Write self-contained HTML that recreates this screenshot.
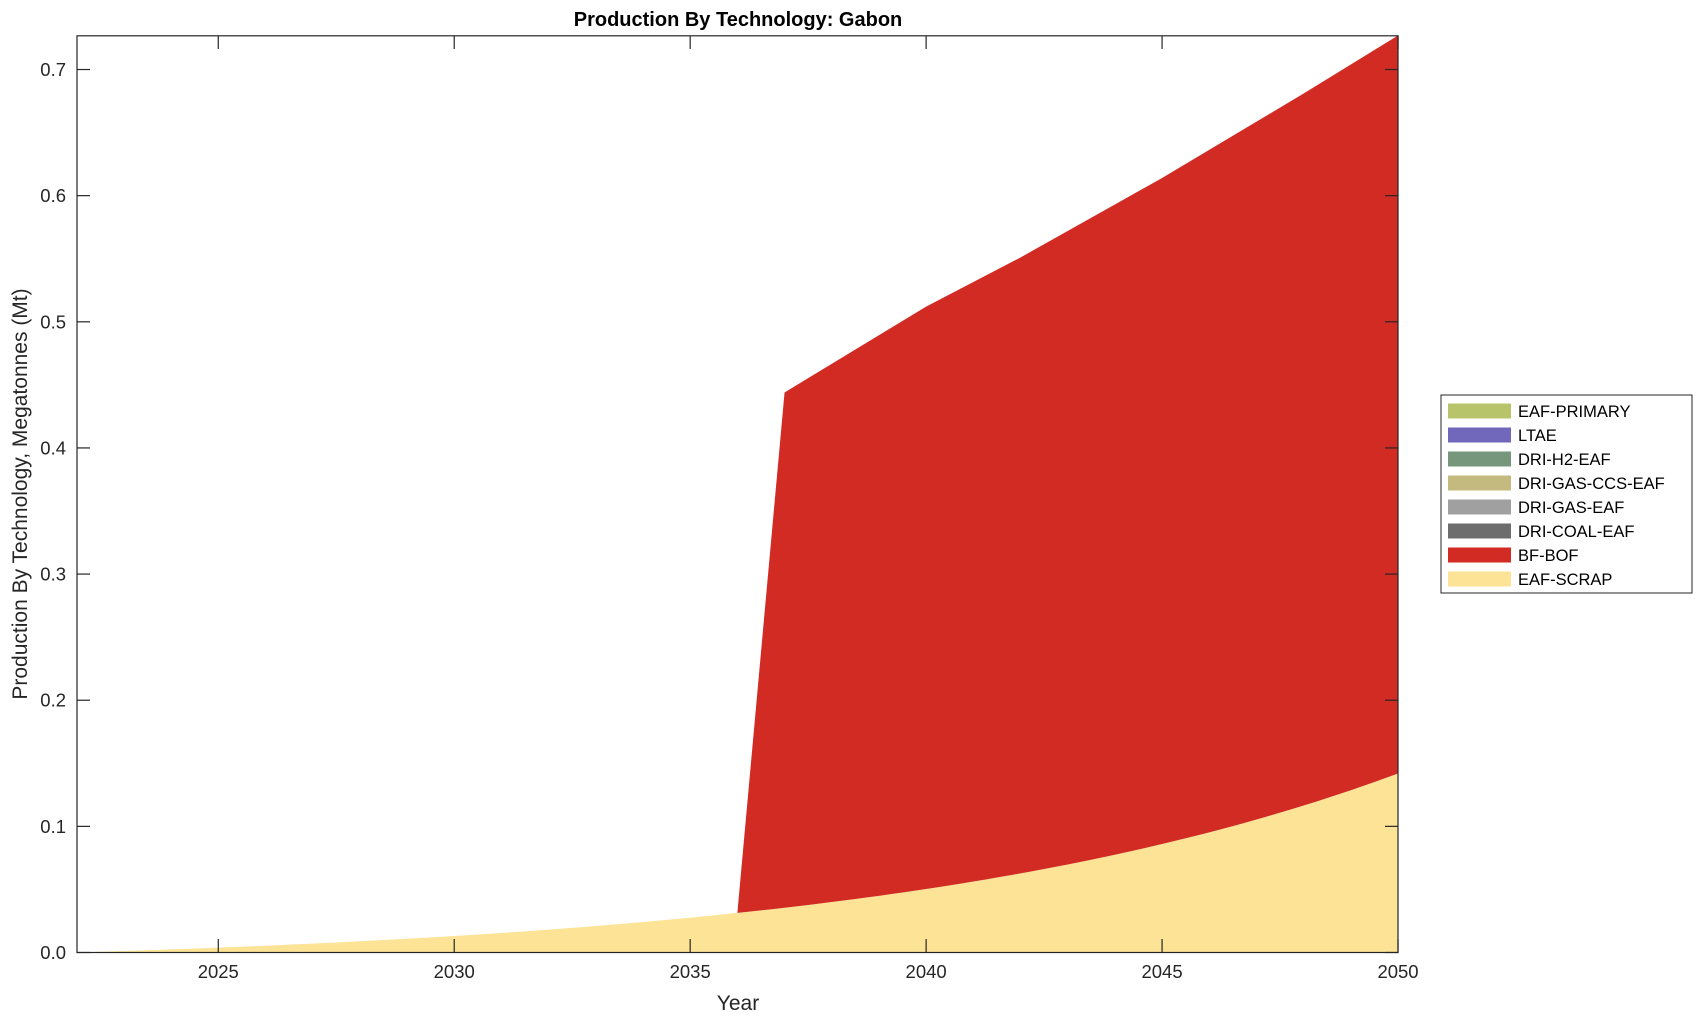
<!DOCTYPE html>
<html><head><meta charset="utf-8"><style>
html,body{margin:0;padding:0;background:#fff;}
svg{display:block;font-family:"Liberation Sans",Arial,sans-serif;}
</style></head><body>
<svg id="s" width="1703" height="1021" viewBox="0 0 1703 1021" xmlns="http://www.w3.org/2000/svg">
<g id="areas"></g>
<rect x="77" y="35.8" width="1321" height="916.7" fill="none" stroke="#262626" stroke-width="1.2"/>
<g id="ticks" stroke="#262626" stroke-width="1.2"></g>
<g id="labels" font-size="18.5" fill="#262626"></g>
<text x="738" y="26" text-anchor="middle" font-size="20" font-weight="bold" fill="#000">Production By Technology: Gabon</text>
<text x="738" y="1010" text-anchor="middle" font-size="21" fill="#262626">Year</text>
<text transform="translate(27,494) rotate(-90)" text-anchor="middle" font-size="21" fill="#262626">Production By Technology, Megatonnes (Mt)</text>
<rect x="1441" y="395" width="251" height="198" fill="#fff" stroke="#262626" stroke-width="1"/>
<g id="legend" font-size="16.5" fill="#000"></g>
</svg>
<script>
var X=function(y){return 76.7+(y-2022)*47.19;},Y=function(v){return 952.5-v*1261.4;};
function sc(t){return 0.01242*(Math.exp(0.09*(t-2022))-1);}
var total=[[2037,0.444],[2040,0.512],[2042,0.551],[2045,0.614],[2048,0.681],[2050,0.727]];
var ns="http://www.w3.org/2000/svg";
function el(p,t,a,txt){var e=document.createElementNS(ns,t);for(var k in a)e.setAttribute(k,a[k]);if(txt)e.textContent=txt;document.getElementById(p).appendChild(e);return e;}
var d="M"+X(2022)+","+Y(0);for(var t=2022;t<=2050.001;t+=0.25){d+=" L"+X(t)+","+Y(sc(t));}d+=" L"+X(2050)+","+Y(0)+" Z";
el("areas","path",{d:d,fill:"#fde395"});
var d2="M"+X(2036)+","+Y(sc(2036));total.forEach(function(p){d2+=" L"+X(p[0])+","+Y(p[1]);});
for(var t=2050;t>=2036;t-=0.25){d2+=" L"+X(t)+","+Y(sc(t));}d2+=" Z";
el("areas","path",{d:d2,fill:"#d12b24"});
for(var yr=2025;yr<=2050;yr+=5){var x=X(yr);el("ticks","line",{x1:x,y1:952.5,x2:x,y2:939});el("ticks","line",{x1:x,y1:35.8,x2:x,y2:49});
el("labels","text",{x:x,y:978,"text-anchor":"middle"},String(yr));}
for(var v=0;v<=7;v++){var y=Y(v/10);el("ticks","line",{x1:77,y1:y,x2:90,y2:y});el("ticks","line",{x1:1398,y1:y,x2:1385,y2:y});
el("labels","text",{x:66,y:y+6.5,"text-anchor":"end"},(v/10).toFixed(1));}
var L=[["EAF-PRIMARY","#b8c46a"],["LTAE","#7168bb"],["DRI-H2-EAF","#76977b"],["DRI-GAS-CCS-EAF","#c4b97f"],["DRI-GAS-EAF","#a0a0a0"],["DRI-COAL-EAF","#6d6d6d"],["BF-BOF","#d12b24"],["EAF-SCRAP","#fde395"]];
L.forEach(function(l,i){var cy=411+i*24;el("legend","rect",{x:1448,y:cy-7.5,width:63,height:15,fill:l[1]});el("legend","text",{x:1518,y:cy+6},l[0]);});
</script>
</body></html>
